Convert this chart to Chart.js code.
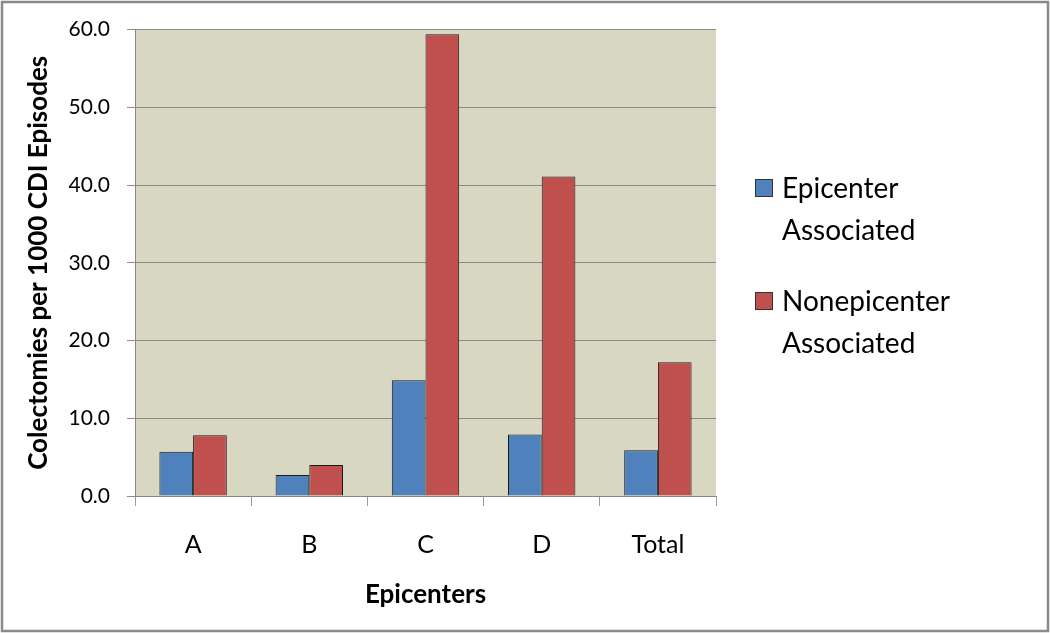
<!DOCTYPE html>
<html>
<head>
<meta charset="utf-8">
<script src="https://cdn.jsdelivr.net/npm/chart.js@4/dist/chart.umd.min.js"></script>
<style>
  html, body { margin: 0; padding: 0; background: #fff; }
  #wrap { width: 1050px; height: 633px; position: relative; }
</style>
</head>
<body>
<div id="wrap"><canvas id="chart" width="1050" height="633"></canvas></div>
<script>
// data
const categories = ['A', 'B', 'C', 'D', 'Total'];
const epicenterValues = [5.7, 2.7, 14.9, 7.9, 5.9];
const nonepicenterValues = [7.8, 4.0, 59.4, 41.1, 17.2];
const seriesLabels = [['Epicenter', 'Associated'], ['Nonepicenter', 'Associated']];
const yTicks = [0, 10, 20, 30, 40, 50, 60];

const FONT = 'Lato, "Open Sans", sans-serif';

// plot background + outer frame
const frame = {
    id: 'frame',
    beforeDraw(chart) {
        const { ctx, chartArea: a } = chart;
        ctx.save();
        ctx.fillStyle = '#ffffff';
        ctx.fillRect(0, 0, chart.width, chart.height);
        ctx.fillStyle = '#D8D8C2';
        ctx.fillRect(a.left, a.top, a.right - a.left, a.bottom - a.top);
        ctx.restore();
    },
    afterDraw(chart) {
        const { ctx } = chart;
        ctx.save();
        ctx.strokeStyle = '#8a8a8a';
        ctx.lineWidth = 2.5;
        ctx.strokeRect(2, 2, chart.width - 4, chart.height - 4);
        ctx.restore();
    }
};

// legend on the right, two-line labels
const sideLegend = {
    id: 'sideLegend',
    afterDraw(chart) {
        const { ctx } = chart;
        const x0 = 755, top0 = 179, groupGap = 113, lineGap = 42;
        ctx.save();
        ctx.font = '28px ' + FONT;
        ctx.textBaseline = 'middle';
        chart.data.datasets.forEach((ds, i) => {
            const y = top0 + i * groupGap;
            ctx.fillStyle = ds.backgroundColor;
            ctx.fillRect(x0, y, 18, 18);
            ctx.strokeStyle = '#333';
            ctx.lineWidth = 1;
            ctx.strokeRect(x0 + 0.5, y + 0.5, 17, 17);
            ctx.fillStyle = '#000';
            seriesLabels[i].forEach((line, j) => {
                ctx.fillText(line, x0 + 27, y + 10 + j * lineGap);
            });
        });
        ctx.restore();
    }
};

new Chart(document.getElementById('chart'), {
    type: 'bar',
    data: {
        labels: categories,
        datasets: [
            {
                label: seriesLabels[0].join(' '),
                data: epicenterValues,
                backgroundColor: '#4F81BD',
                borderColor: '#1a1a1a',
                borderWidth: 1,
                borderSkipped: 'bottom',
                categoryPercentage: 0.58,
                barPercentage: 1.0
            },
            {
                label: seriesLabels[1].join(' '),
                data: nonepicenterValues,
                backgroundColor: '#C0504D',
                borderColor: '#1a1a1a',
                borderWidth: 1,
                borderSkipped: 'bottom',
                categoryPercentage: 0.58,
                barPercentage: 1.0
            }
        ]
    },
    options: {
        responsive: false,
        animation: false,
        layout: { padding: { left: 0, top: 26, right: 334, bottom: 0 } },
        plugins: {
            legend: { display: false },
            tooltip: { enabled: false }
        },
        scales: {
            x: {
                grid: {
                    offset: true,
                    drawOnChartArea: false,
                    drawTicks: true,
                    tickLength: 10,
                    color: '#9a9a9a'
                },
                border: { color: '#888888', width: 1 },
                ticks: {
                    font: { family: FONT, size: 25 },
                    color: '#000',
                    padding: 24
                },
                title: {
                    display: true,
                    text: 'Epicenters',
                    font: { family: FONT, size: 26, weight: 'bold' },
                    color: '#000',
                    padding: { top: 0, bottom: 23 }
                },
                afterFit(scale) { scale.height = 137; }
            },
            y: {
                min: 0,
                max: 60,
                afterBuildTicks(scale) { scale.ticks = yTicks.map(v => ({ value: v })); },
                grid: {
                    color: '#8a8a8a',
                    tickLength: 8,
                    drawTicks: true
                },
                border: { color: '#888888', width: 1 },
                ticks: {
                    font: { family: FONT, size: 21 },
                    color: '#000',
                    padding: 17,
                    callback: v => v.toFixed(1)
                },
                title: {
                    display: true,
                    text: 'Colectomies per 1000 CDI Episodes',
                    font: { family: FONT, size: 26, weight: 'bold' },
                    color: '#000',
                    padding: { top: 23, bottom: 0 }
                },
                afterFit(scale) { scale.width = 135; }
            }
        }
    },
    plugins: [frame, sideLegend]
});
</script>
</body>
</html>
